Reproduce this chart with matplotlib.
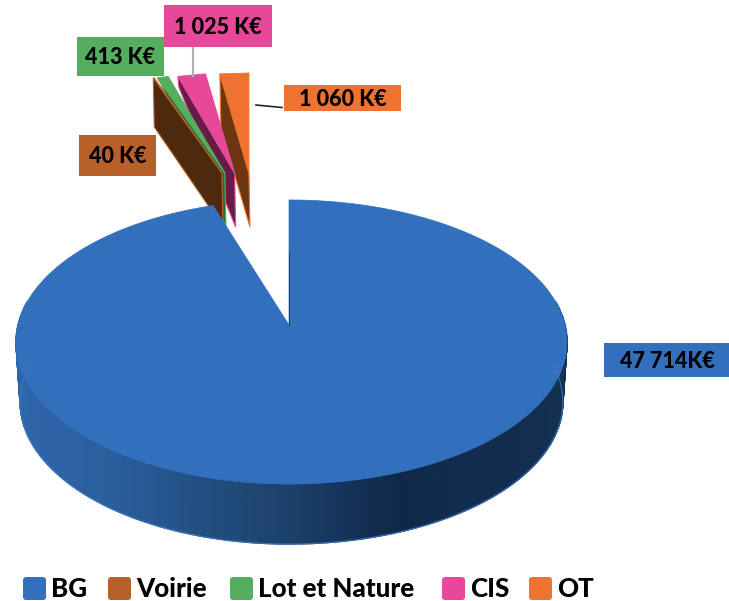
import numpy as np
import matplotlib
matplotlib.use('Agg')
import matplotlib.pyplot as plt
from matplotlib.patches import Polygon, Rectangle, FancyBboxPatch

categories = ['BG', 'Voirie', 'Lot et Nature', 'CIS', 'OT']
values = [47714, 40, 413, 1025, 1060]
value_labels = ['47 714K€', '40 K€', '413 K€', '1 025 K€', '1 060 K€']

colors = ['#3270BE', '#B8602A', '#55AE5E', '#E8489A', '#EE7330']
wall_colors = [None, '#4D2A0E', '#2F6B35', '#661C46', '#6B3610']
outer_depth = [0, 49, 0, 11, 54]

plt.rcParams['font.family'] = ['Lato', 'DejaVu Sans']

fig = plt.figure(figsize=(7.29, 6.01), dpi=100)
ax = fig.add_axes([0, 0, 1, 1])
ax.set_xlim(0, 729)
ax.set_ylim(601, 0)
ax.axis('off')

# angles clockwise from 12 o'clock
vals = np.array(values, dtype=float)
edges = np.concatenate([[0], np.cumsum(vals)]) / vals.sum() * 2 * np.pi


def project(theta, r=1.0, depth=0.0):
    # perspective view of the pie disc, apex at (289, 325)
    u = r * np.sin(theta)
    v = -r * np.cos(theta)
    w = 1 - 0.1197 * v
    scale = 1 - 0.015 * depth / 60.0
    b = np.where(u < 0, 271.0, 276.0)
    return 289 + scale * b * u / w, 325 + depth + 140 * v / w


# side of the main slice, shaded along x
side_x = [20, 120, 190, 260, 330, 400, 470, 565]
side_c = np.array([matplotlib.colors.to_rgb(c) for c in
                   ['#2E66AA', '#2A5D9B', '#235084', '#1E4670', '#17375F',
                    '#0F2846', '#122D4F', '#12304F']])
t = np.radians(np.linspace(80, 280, 240))
for a, b in zip(t[:-1], t[1:]):
    x0, y0 = project(a)
    x1, y1 = project(b)
    x2, y2 = project(b, depth=60)
    x3, y3 = project(a, depth=60)
    xm = (x0 + x1) / 2
    c = [np.interp(xm, side_x, side_c[:, i]) for i in range(3)]
    ax.add_patch(Polygon([[x0, y0], [x1, y1], [x2, y2], [x3, y3]], fc=c, ec=c, lw=1.0))
bx, by = project(t, depth=60)
ax.plot(bx, by, color='#3F78C4', lw=0.9, alpha=0.8)

# exploded slices, drawn back to front
for i in [4, 3, 2, 1]:
    a, b = edges[i], edges[i + 1]
    mid = (a + b) / 2
    ax_ = 256.3 + 111 * np.sin(mid)
    ay_ = 173
    xa, ya = ax_ + 220 * np.sin(a), ay_ - 100 * np.cos(a)
    xb, yb = ax_ + 220 * np.sin(b), ay_ - 100 * np.cos(b)
    wall = [[xa, ya], [ax_, ay_], [ax_ + 1, ay_ + 54], [xa + 1, ya + outer_depth[i]]]
    ax.add_patch(Polygon(wall, fc=wall_colors[i], ec=colors[i], lw=0.8))
    ax.add_patch(Polygon([[ax_, ay_], [xa, ya], [xb, yb]], fc=colors[i], ec=colors[i], lw=0.6))

# main slice
th = np.linspace(edges[0], edges[1], 400)
px, py = project(th)
ax.add_patch(Polygon(np.column_stack([np.r_[289, px], np.r_[325, py]]), fc=colors[0], ec=colors[0], lw=0.5))
sx, sy = project(0.0, 0.55)
ax.plot([289, sx], [325, sy], color='#1B3F6E', lw=0.7)

# leader lines
ax.plot([193, 193], [47, 76], color='#B0B0B0', lw=1.5)
ax.plot([256, 282], [105, 107.5], color='#262626', lw=1.2)

# data labels
boxes = [(604, 343, 125, 34), (79, 135, 77, 41), (77, 37, 87, 39), (164, 5, 108, 42), (284, 85, 117, 26)]
text_x = [667, 117.5, 120.5, 218, 342.5]
for i, (x, y, w, h) in enumerate(boxes):
    ax.add_patch(Rectangle((x, y), w, h, fc=colors[i], ec='none', zorder=3))
    ax.text(text_x[i], y + h / 2 + 1, value_labels[i], ha='center', va='center',
            fontsize=15.5, fontweight=900, color='black', zorder=4)

# legend
leg_x = [23, 108, 230, 442, 529]
for i, name in enumerate(categories):
    ax.add_patch(FancyBboxPatch((leg_x[i] + 2, 579), 19, 19, boxstyle='round,pad=2,rounding_size=3',
                                fc=colors[i], ec='none'))
    ax.text(leg_x[i] + 28, 589, name, ha='left', va='center', fontsize=18.7, fontweight=900, color='black')

fig.savefig('out.png', dpi=100)
